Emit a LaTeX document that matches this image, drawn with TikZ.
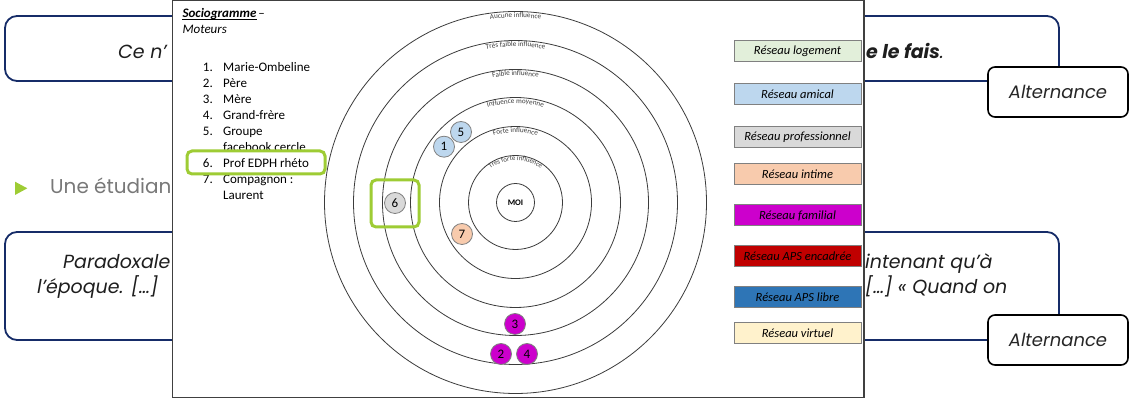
\documentclass[tikz,border=0pt]{standalone}
\usepackage{fontspec}
\setmainfont{Carlito}
\newfontfamily\slidefont{Poppins}
\usetikzlibrary{calc,decorations.text}
\definecolor{navy}{RGB}{22,44,104}
\definecolor{limeg}{RGB}{158,204,52}
\definecolor{quote}{RGB}{30,30,30}
\definecolor{bullgray}{RGB}{120,120,120}
\definecolor{ringc}{RGB}{60,60,60}
\definecolor{legbord}{RGB}{128,128,128}
\definecolor{cLog}{RGB}{226,239,218}
\definecolor{cAmi}{RGB}{189,215,238}
\definecolor{cPro}{RGB}{217,217,217}
\definecolor{cInt}{RGB}{248,203,173}
\definecolor{cFam}{RGB}{204,0,204}
\definecolor{cEnc}{RGB}{192,0,0}
\definecolor{cLib}{RGB}{46,117,182}
\definecolor{cVir}{RGB}{255,242,204}
\newcommand\ringfont{\fontsize{7.2}{8}\selectfont}
\newcommand\ringlabel[3][\ringfont]{%
  \path[decorate,decoration={text along path,text align=center,text color=ringc,text={|#1|#3}}]
    ($(C)+(150:#2)$) arc[start angle=150,end angle=30,radius=#2];}
\begin{document}
\begin{tikzpicture}[x=1pt,y=1pt,
  quotebox/.style={draw=navy,line width=1.8pt,rounded corners=12pt},
  altbox/.style={draw=black,fill=white,line width=1.6pt,rounded corners=7pt,minimum width=140pt,minimum height=50pt,inner sep=0pt,font=\slidefont\itshape\fontsize{18}{20}\selectfont,text=black!85},
  slidetext/.style={anchor=base west,inner sep=0pt,font=\slidefont\itshape\fontsize{19}{22}\selectfont,text=quote},
  listnum/.style={anchor=base east,inner sep=0pt,font=\fontsize{13}{15}\selectfont},
  listtxt/.style={anchor=base west,inner sep=0pt,font=\fontsize{13}{15}\selectfont},
  ring/.style={draw=ringc,line width=0.8pt},
  bubble/.style={circle,draw=legbord,line width=0.8pt,minimum size=21pt,inner sep=0pt,font=\fontsize{13}{14}\selectfont},
  legend/.style={draw=legbord,line width=1pt,minimum width=127pt,minimum height=21pt,inner sep=0pt,font=\itshape\fontsize{12.5}{14}\selectfont},
  hilite/.style={draw=limeg,line width=3pt,rounded corners=5pt}]
\path[use as bounding box] (0,0) rectangle (1129,398);
% --- slide background
\draw[quotebox] (5,317) rectangle (1059,382);
\node[slidetext] (ce) at (118,339.7) {Ce n’};
\node[slidetext] (fais) at (866,339.7) {\bfseries e le fais\mdseries.};
\node[altbox] (alt1) at (1058,306) {Alternance};
\fill[limeg] (15,216.3) -- (15,203) -- (27.3,209.7) -- cycle;
\node[anchor=base west,inner sep=0pt,font=\slidefont\fontsize{20}{22}\selectfont,text=bullgray] (etud) at (50,204.7) {Une étudian};
\draw[quotebox] (5,58) rectangle (1059,166);
\node[slidetext] (para) at (63,129.7) {Paradoxale};
\node[slidetext] (epoq) at (37,104) {l’époque. […]};
\node[slidetext] (main) at (865,129.7) {intenant qu’à};
\node[slidetext] (quand) at (865,104) {[…] « Quand on};
\node[altbox] (alt2) at (1058,58) {Alternance};
% --- overlay
\draw[draw=black!75,fill=white,line width=1.2pt] (172.7,0.6) rectangle (864,397.4);
\node[anchor=base west,inner sep=0pt,font=\bfseries\itshape\fontsize{13}{15}\selectfont] (soc) at (182.3,380.7) {Sociogramme};
\node[anchor=base west,inner sep=0pt,font=\fontsize{13}{15}\selectfont] (dash) at ($(soc.base east)+(1.5,0)$) {–};
\draw[line width=0.8pt] ($(soc.base west)+(0,-2)$) -- ($(soc.base east)+(0,-2)$);
\node[anchor=base west,inner sep=0pt,font=\itshape\fontsize{13}{15}\selectfont] (mot) at (182.3,364.7) {Moteurs};
\node[listnum] (n1) at (213,326.3) {1.};
\node[listtxt] (t1) at (223,326.3) {Marie-Ombeline};
\node[listnum] (n2) at (213,310.3) {2.};
\node[listtxt] (t2) at (223,310.3) {Père};
\node[listnum] (n3) at (213,294.3) {3.};
\node[listtxt] (t3) at (223,294.3) {Mère};
\node[listnum] (n4) at (213,278.3) {4.};
\node[listtxt] (t4) at (223,278.3) {Grand-frère};
\node[listnum] (n5) at (213,262.3) {5.};
\node[listtxt] (t5) at (223,262.3) {Groupe};
\node[listtxt] (t5b) at (223,246.3) {facebook cercle};
\node[listnum] (n7) at (213,214.3) {7.};
\node[listtxt] (t7) at (223,214.3) {Compagnon :};
\node[listtxt] (t7b) at (223,198.3) {Laurent};
\draw[hilite,fill=white] (187,224) rectangle (325,247);
\node[listnum] (n6) at (213,230.3) {6.};
\node[listtxt] (t6) at (223,230.3) {Prof EDPH rhéto};
% --- rings
\coordinate (C) at (515.5,195.5);
\foreach \r in {191,162,133,105,76,47} {\draw[ring] (C) circle[radius=\r];}
\node[circle,draw=ringc,line width=0.8pt,minimum size=38pt,inner sep=0pt,font=\bfseries\fontsize{8.5}{9}\selectfont] (moi) at (C) {MOI};
\ringlabel{185}{Aucune influence}
\ringlabel{156}{Très faible influence}
\ringlabel{127}{Faible influence}
\ringlabel{99}{Influence moyenne}
\ringlabel{70}{Forte influence}
\ringlabel[\fontsize{6.8}{7.5}\selectfont]{42}{Très forte influence}
% --- bubbles
\node[bubble,fill=cAmi] (b1) at (444,251.3) {1};
\node[bubble,fill=cAmi] (b5) at (461,266) {5};
\node[bubble,fill=cPro] (b6) at (395,195) {6};
\node[bubble,fill=cInt] (b7) at (462,164) {7};
\node[bubble,fill=cFam] (b3) at (515,74) {3};
\node[bubble,fill=cFam] (b2) at (501,44) {2};
\node[bubble,fill=cFam] (b4) at (527,44) {4};
\draw[hilite] (371,171) rectangle (419,218);
% --- legend
\node[legend,fill=cLog] (lLog) at (797.5,347) {Réseau logement};
\node[legend,fill=cAmi] (lAmi) at (797.5,303.5) {Réseau amical};
\node[legend,fill=cPro] (lPro) at (797.5,260.5) {Réseau professionnel};
\node[legend,fill=cInt] (lInt) at (797.5,223.5) {Réseau intime};
\node[legend,fill=cFam] (lFam) at (797.5,182.5) {Réseau familial};
\node[legend,fill=cEnc] (lEnc) at (797.5,141.5) {Réseau APS encadrée};
\node[legend,fill=cLib] (lLib) at (797.5,101) {Réseau APS libre};
\node[legend,fill=cVir] (lVir) at (797.5,64.5) {Réseau virtuel};
\end{tikzpicture}
\end{document}
